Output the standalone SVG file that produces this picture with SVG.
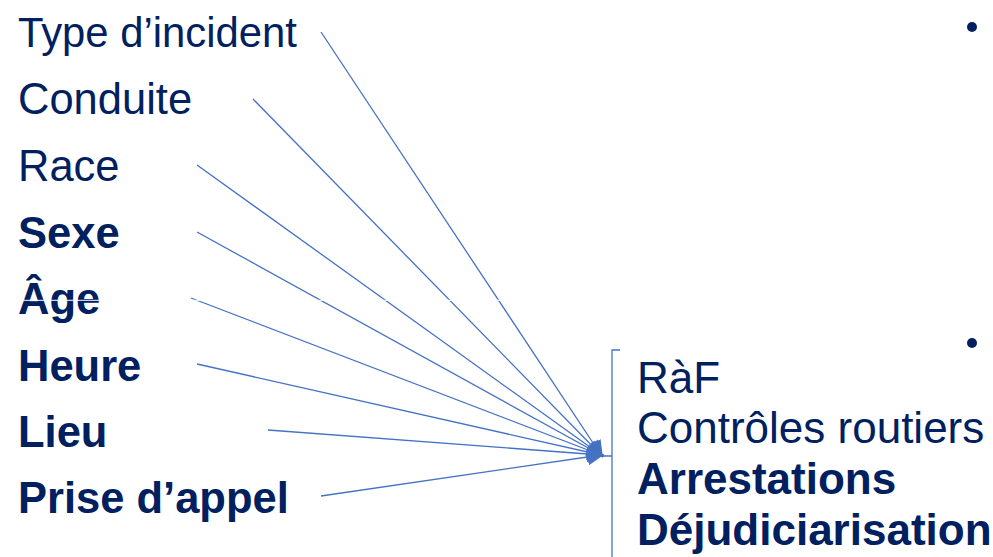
<svg xmlns="http://www.w3.org/2000/svg" width="993" height="557" viewBox="0 0 993 557">
<style>
.t{font-family:"Liberation Sans",Arial,sans-serif;fill:#002060;font-size:43.5px}
.b{font-weight:bold}
.r{font-size:44px}
.c{stroke:#4472C4;stroke-width:1.3;fill:none}
</style>
<defs>
<marker id="ah" viewBox="0 0 10 10" refX="8" refY="5" markerWidth="13" markerHeight="13" orient="auto" markerUnits="strokeWidth">
<path d="M0,0 L10,5 L0,10 z" fill="#4472C4"/>
</marker>
</defs>
<rect width="993" height="557" fill="#fff"/>
<g id="n-type"><text class="t" x="18" y="47" style="font-size:41.8px">Type d’incident</text></g>
<g id="n-conduite"><text class="t" x="18" y="114">Conduite</text></g>
<g id="n-race"><text class="t" x="18" y="181">Race</text></g>
<g id="n-sexe"><text class="t b" x="18" y="248">Sexe</text></g>
<g id="n-age"><text class="t b" x="18" y="314">Âge</text></g>
<g id="n-heure"><text class="t b" x="18" y="381">Heure</text></g>
<g id="n-lieu"><text class="t b" x="18" y="447">Lieu</text></g>
<g id="n-prise"><text class="t b" x="18" y="513">Prise d’appel</text></g>
<g id="n-outcomes">
<path class="c" d="M620,350 H612 V560 M603,456 H612"/>
<text class="t r" x="637" y="393">RàF</text>
<text class="t r" x="637" y="443">Contrôles routiers</text>
<text class="t r b" x="637" y="494">Arrestations</text>
<text class="t r b" x="637" y="545">Déjudiciarisation</text>
</g>
<g id="n-bullets" fill="#002060">
<circle cx="972" cy="27" r="5"/>
<circle cx="972" cy="343" r="5"/>
</g>
<g id="connectors" class="c" marker-end="url(#ah)">
<line x1="321" y1="32" x2="601" y2="455"/>
<line x1="253" y1="99" x2="601" y2="455"/>
<line x1="197" y1="165" x2="601" y2="455"/>
<line x1="197" y1="232" x2="601" y2="455"/>
<line x1="191" y1="298" x2="601" y2="455"/>
<line x1="197" y1="364" x2="601" y2="455"/>
<line x1="268" y1="430" x2="601" y2="455"/>
<line x1="321" y1="496" x2="601" y2="455"/>
</g>
<line x1="15" y1="300.3" x2="515" y2="300.3" stroke="#fff" stroke-width="1"/>
</svg>
